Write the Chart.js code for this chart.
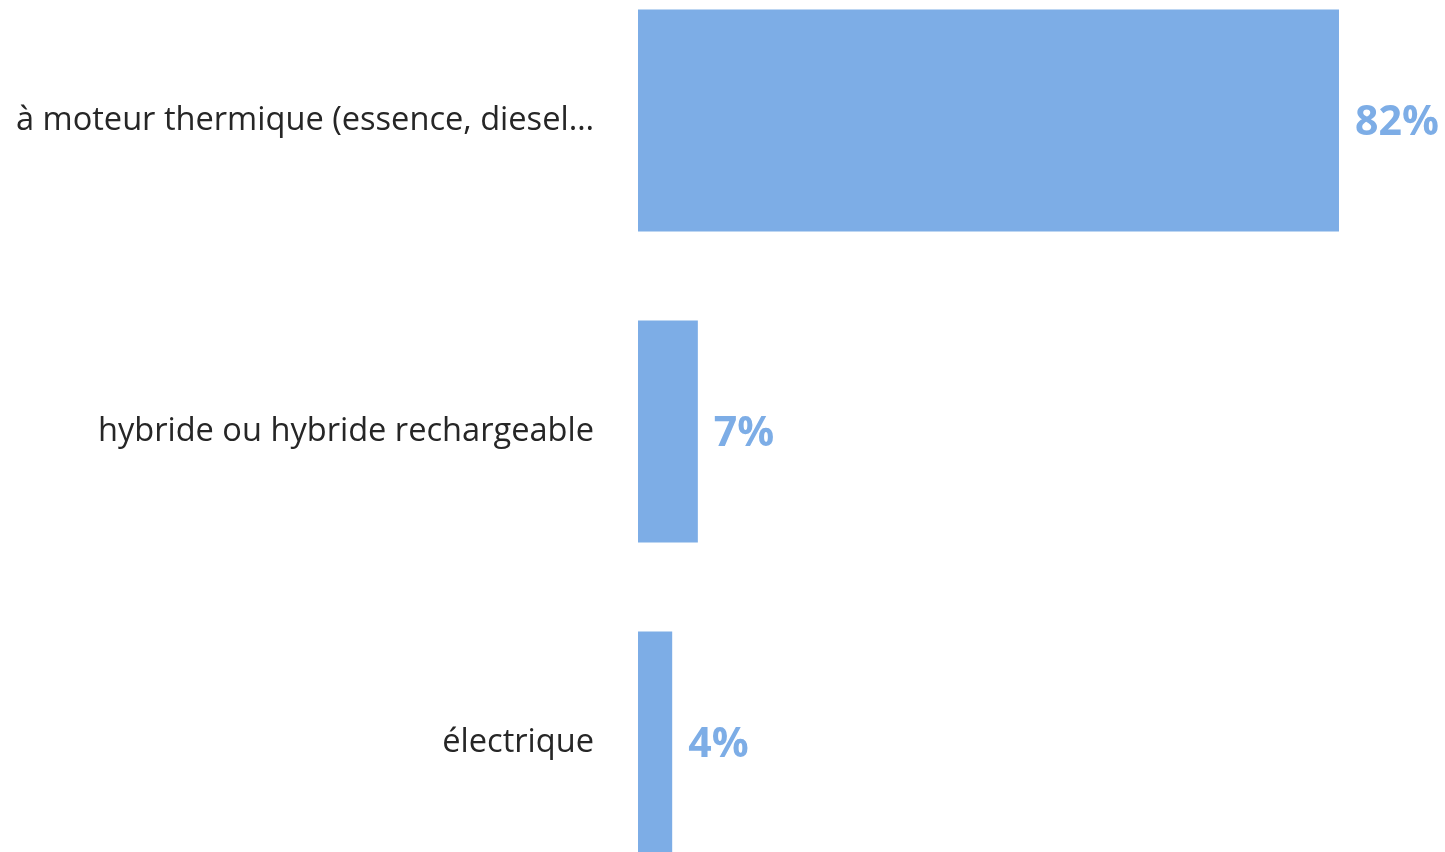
<!DOCTYPE html>
<html>
<head>
<meta charset="utf-8">
<script src="https://cdn.jsdelivr.net/npm/chart.js@4.4.1/dist/chart.umd.min.js"></script>
<style>
html, body { margin: 0; padding: 0; background: #fff; overflow: hidden; }
#chart { position: absolute; left: 0; top: -35px; }
</style>
</head>
<body>
<canvas id="chart" width="1445" height="933"></canvas>
<script>
'use strict'

const categories = ['à moteur thermique (essence, diesel…', 'hybride ou hybride rechargeable', 'électrique'];
const values = [82, 7, 4];
const valueLabels = ['82%', '7%', '4%'];

const barColor = '#7DADE6';

// draws the percent labels to the right of each bar
const valueLabelPlugin = {
    id: 'valueLabels',
    afterDatasetsDraw(chart) {
        const ctx = chart.ctx;
        const meta = chart.getDatasetMeta(0);
        ctx.save();
        ctx.font = 'bold 41px "Open Sans"';
        ctx.fillStyle = barColor;
        ctx.textAlign = 'left';
        ctx.textBaseline = 'middle';
        meta.data.forEach((bar, i) => {
            ctx.fillText(valueLabels[i], bar.x + 16, bar.y + 3);
        });
        ctx.restore();
    }
};

const ctx = document.getElementById('chart').getContext('2d');

new Chart(ctx, {
    type: 'bar',
    data: {
        labels: categories,
        datasets: [{
            data: values,
            backgroundColor: barColor,
            borderWidth: 0,
            barPercentage: 0.714,
            categoryPercentage: 1
        }]
    },
    options: {
        indexAxis: 'y',
        responsive: false,
        animation: false,
        layout: { padding: 0 },
        plugins: {
            legend: { display: false },
            tooltip: { enabled: false }
        },
        scales: {
            x: {
                display: false,
                min: 0,
                max: 94.4
            },
            y: {
                afterFit(scale) {
                    scale.width = 638;
                    scale.paddingTop = 0;
                    scale.paddingBottom = 0;
                },
                grid: { display: false, drawTicks: false },
                border: { display: false },
                ticks: {
                    padding: 44,
                    color: '#262626',
                    font: { family: 'Open Sans', size: 32.6 }
                }
            }
        }
    },
    plugins: [valueLabelPlugin]
});
</script>
</body>
</html>
